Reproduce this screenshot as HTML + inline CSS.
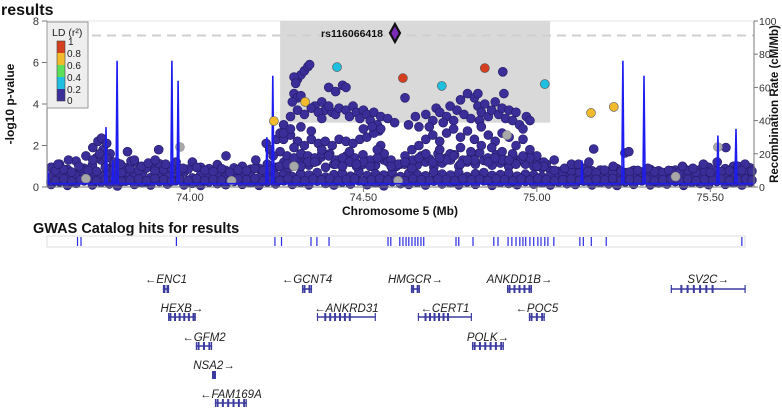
<!DOCTYPE html>
<html><head><meta charset="utf-8"><style>
html,body{margin:0;padding:0;background:#fff;}
svg{display:block;font-family:"Liberation Sans",Arial,sans-serif;}
</style></head><body>
<svg id="chart" width="782" height="411" viewBox="0 0 782 411" xmlns="http://www.w3.org/2000/svg">
<text x="1" y="15" font-size="16" font-weight="bold" fill="#111">results</text>
<rect x="47" y="21" width="707" height="166" fill="#fff" stroke="#e6e6e6"/>
<rect id="region" fill="#d9d9d9"/>
<line id="sigline" stroke="#cfcfcf" stroke-width="2" stroke-dasharray="9,6"/>
<g id="points"></g>
<path id="recomb" fill="none" stroke="#1d1df0" stroke-width="1.6"/>
<g id="ld"></g>
<g id="axes"></g>
<text transform="translate(14,104) rotate(-90)" text-anchor="middle" font-size="12" font-weight="bold" fill="#111">-log10 p-value</text>
<text transform="translate(778,104) rotate(-90)" text-anchor="middle" font-size="11.5" font-weight="bold" fill="#111">Recombination Rate (cM/Mb)</text>
<text x="400" y="215" text-anchor="middle" font-size="12" font-weight="bold" fill="#111">Chromosome 5 (Mb)</text>
<g>
<rect x="47" y="22" width="41" height="86" fill="#eeeeee" stroke="#999"/>
<text x="52" y="36" font-size="10.5" fill="#222">LD (r²)</text>
<rect x="57" y="41" width="8" height="12" fill="#d43f1f"/>
<rect x="57" y="53" width="8" height="12" fill="#f2bb2d"/>
<rect x="57" y="65" width="8" height="12" fill="#5ce05c"/>
<rect x="57" y="77" width="8" height="12" fill="#1fbfe0"/>
<rect x="57" y="89" width="8" height="12" fill="#3b2e98"/>
<rect x="57" y="41" width="8" height="60" fill="none" stroke="#444" stroke-width="0.6"/>
<g font-size="10" fill="#222"><text x="68" y="45">1</text><text x="67" y="57">0.8</text><text x="67" y="69">0.6</text><text x="67" y="81">0.4</text><text x="67" y="93">0.2</text><text x="67" y="104">0</text></g>
</g>
<text x="33" y="233" font-size="14.5" font-weight="bold" fill="#111">GWAS Catalog hits for results</text>
<rect x="47" y="236" width="698" height="11" fill="#fff" stroke="#ddd"/>
<g id="hits"></g>
<g id="genes"></g>
</svg>
<script>
// ---- data ----
const basePos=[73.600,73.624,73.647,73.672,73.695,73.719,73.744,73.768,73.791,73.815,73.840,73.863,73.887,73.912,73.935,73.959,73.983,74.007,74.031,74.055,74.079,74.103,74.127,74.151,74.175,74.199,74.223,74.247,74.271,74.295,74.319,74.343,74.367,74.391,74.415,74.439,74.463,74.487,74.511,74.535,74.559,74.583,74.607,74.631,74.655,74.679,74.703,74.727,74.751,74.775,74.799,74.823,74.847,74.871,74.895,74.919,74.943,74.967,74.991,75.015,75.039,75.063,75.087,75.111,75.135,75.159,75.183,75.207,75.231,75.255,75.279,75.303,75.327,75.351,75.375,75.399,75.423,75.447,75.471,75.495,75.519,75.543,75.567,75.591,75.615];
const basePos2=[73.612,73.636,73.659,73.684,73.707,73.731,73.756,73.780,73.803,73.827,73.852,73.875,73.899,73.924,73.947,73.971,73.995,74.019,74.043,74.067,74.091,74.115,74.139,74.163,74.187,74.211,74.235,74.259,74.283,74.307,74.331,74.355,74.379,74.403,74.427,74.451,74.475,74.499,74.523,74.547,74.571,74.595,74.619,74.643,74.667,74.691,74.715,74.739,74.763,74.787,74.811,74.835,74.859,74.883,74.907,74.931,74.955,74.979,75.003,75.027,75.051,75.075,75.099,75.123,75.147,75.171,75.195,75.219,75.243,75.267,75.291,75.315,75.339,75.363,75.387,75.411,75.435,75.459,75.483,75.507,75.531,75.555,75.579,75.603,75.620];
const baseA=[0.12,0.25,0.08,0.18,0.3,0.1,0.22,0.15,0.05,0.28,0.12,0.2,0.09,0.26,0.14,0.3,0.1,0.18,0.07,0.24,0.16,0.11,0.27,0.13,0.2,0.08,0.25,0.15,0.3,0.12,0.22,0.1,0.28,0.17,0.09,0.24,0.14,0.3,0.11,0.2,0.06,0.26,0.16,0.12,0.23,0.09,0.28,0.15,0.2,0.1,0.25,0.13,0.3,0.08,0.22,0.17,0.11,0.27,0.14,0.2,0.09,0.24,0.16,0.12,0.28,0.1,0.21,0.15,0.07,0.25,0.13,0.3,0.1,0.19,0.14,0.26,0.08,0.22,0.17,0.11,0.27,0.13,0.2,0.09,0.24];
const baseB=[0.5,0.62,0.45,0.58,0.7,0.48,0.55,0.66,0.42,0.6,0.52,0.68,0.46,0.57,0.63,0.5,0.72,0.44,0.59,0.54,0.65,0.47,0.6,0.52,0.7,0.45,0.62,0.56,0.68,0.5,0.64,0.58,0.7,0.48,0.6,0.66,0.52,0.72,0.55,0.63,0.58,0.7,0.5,0.66,0.6,0.54,0.72,0.62,0.58,0.68,0.5,0.64,0.7,0.56,0.6,0.66,0.52,0.62,0.58,0.5,0.55,0.6,0.45,0.52,0.58,0.48,0.56,0.62,0.5,0.46,0.6,0.52,0.44,0.58,0.5,0.64,0.47,0.55,0.6,0.5,0.62,0.56,0.68,0.52,0.6];
const baseC=[0.95,1.1,0.85,1.25,0.9,1.05,1.3,0.88,1.15,0.92,1.2,0.85,1.0,1.12,0.9,1.05,0.82,1.2,0.95,0.88,1.08,0.8,0.92,1.0,0.86,0.9,1.1,0.95,1.2,1.0,1.15,1.05,1.25,0.95,1.1,1.0,1.2,0.92,1.15,1.05,1.3,0.98,1.1,1.25,1.05,1.2,0.95,1.15,1.3,1.0,1.2,1.1,1.28,1.05,1.15,0.98,1.2,1.1,1.0,0.92,0.8,0.75,0.85,0.7,0.9,0.78,0.82,0.75,0.88,0.7,0.8,0.72,0.85,0.78,0.68,0.82,0.9,0.76,0.84,0.95,0.8,0.88,1.0,0.85,0.92];
const baseD=[0.3,0.38,0.28,0.35,0.4,0.3,0.36,0.42,0.27,0.33,0.38,0.3,0.4,0.35,0.28,0.37,0.32,0.4,0.3,0.36,0.33,0.29,0.38,0.35,0.41,0.3,0.36,0.32,0.4,0.35,0.3,0.38,0.34,0.4,0.31,0.36,0.39,0.3,0.35,0.4,0.33,0.37,0.3,0.4,0.35,0.32,0.38,0.36,0.3,0.4,0.34,0.37,0.31,0.39,0.35,0.3,0.38,0.33,0.4,0.36,0.3,0.35,0.38,0.32,0.3,0.37,0.34,0.4,0.31,0.36,0.33,0.38,0.3,0.35,0.4,0.32,0.37,0.3,0.36,0.34,0.39,0.31,0.35,0.38,0.33];
const baseE=[0.78,0.85,0.72,0.9,0.8,0.75,0.95,0.82,0.7,0.88,0.8,0.92,0.76,0.84,0.9,0.78,0.86,0.95,0.8,0.74,0.88,0.7,0.82,0.78,0.9,0.8,0.85,1.0,0.9,1.3,1.5,1.2,1.45,1.6,1.3,1.5,1.4,1.55,1.25,1.45,1.2,1.0,1.1,1.3,1.5,1.35,1.6,1.4,1.55,1.3,1.5,1.65,1.4,1.55,1.3,1.5,1.35,1.45,1.25,1.1,0.8,0.72,0.78,0.7,0.75,0.68,0.82,0.7,0.76,0.72,0.8,0.68,0.74,0.7,0.78,0.72,0.8,0.7,0.76,0.82,0.74,0.78,0.85,0.8,0.76];
const snpPos=[73.62,73.65,73.68,73.70,73.72,73.735,73.745,73.75,73.76,73.77,73.73,73.78,73.80,73.82,73.83,73.86,73.88,73.90,73.93,73.96,73.98,73.91,74.104,74.19,74.22,74.25,74.26,
74.31,74.32,74.33,74.34,74.345,74.30,74.305,74.30,74.31,74.32,74.295,74.40,74.42,74.44,74.45,74.38,74.36,74.39,74.41,
74.27,74.29,74.31,74.33,74.35,74.37,74.38,74.40,74.42,74.43,74.45,74.46,74.47,74.48,74.49,74.50,74.51,74.52,74.53,74.54,74.55,74.545,
74.57,74.59,74.62,74.63,74.65,74.66,
74.68,74.70,74.71,74.72,74.74,74.75,74.76,74.77,74.78,74.79,74.80,74.81,74.82,74.83,74.84,74.85,74.86,74.87,74.88,74.89,74.90,74.905,74.91,74.92,74.93,74.94,74.95,74.96,74.97,74.98,74.73,74.69,74.835,74.902,74.83,
74.27,74.29,74.31,74.33,74.35,74.37,74.39,74.41,74.43,74.45,74.47,74.49,74.51,74.53,74.55,74.56,74.58,74.60,74.62,74.64,74.66,74.68,74.70,74.72,74.74,74.76,74.78,74.80,74.82,74.84,74.86,74.88,74.90,74.92,74.94,74.96,74.98,75.00,75.02,74.72,74.75,74.78,74.81,74.84,74.87,74.90,74.93,
74.26,74.28,74.30,74.32,74.34,74.36,74.38,74.40,74.42,74.44,74.46,74.48,74.50,74.52,74.54,74.29,74.32,74.35,74.27,74.525,74.55,74.50,
75.05,75.08,75.10,75.15,75.164,75.12,75.22,75.254,75.265,75.32,75.38,75.42,75.45,75.48,75.50,75.52,75.545,75.58,75.60,75.59,
74.28,74.30,74.34,74.38,74.42,74.46,74.50,74.54,74.58,74.62,74.66,74.70,74.74,74.78,74.82,74.86,74.90,74.94,74.98,75.02,74.32,74.36,74.44,74.48,74.52,74.64,74.68,74.72,74.76,74.80,74.88,74.92,74.96,75.00,73.74,73.76,73.72,73.84,74.23,74.24];
const snpP=[1.1,1.3,1.0,1.5,1.9,2.2,2.35,1.8,2.1,1.6,1.4,1.2,1.1,1.7,1.25,1.0,1.15,1.3,1.1,1.2,0.9,1.8,1.5,1.3,2.1,2.3,2.6,
5.2,5.4,5.6,5.8,5.9,5.3,5.0,4.5,4.3,4.4,4.1,4.8,4.6,4.9,4.8,4.1,3.9,3.7,3.6,
3.0,3.4,3.7,3.5,3.8,3.6,3.3,3.9,3.5,3.8,3.7,3.4,3.9,3.6,3.3,3.7,3.5,3.2,3.6,3.0,3.4,2.7,
3.3,3.1,4.3,3.0,3.4,2.9,
3.5,3.2,3.8,3.6,3.4,3.9,3.2,3.7,4.2,3.5,4.5,3.3,4.3,3.9,3.6,4.0,3.4,3.7,4.1,3.5,3.8,4.5,3.3,3.7,3.2,3.6,3.0,2.8,3.4,3.2,3.1,2.9,3.2,5.55,4.5,
2.3,2.5,2.2,2.0,2.3,2.1,2.2,2.0,2.3,2.2,2.1,2.3,2.4,2.6,2.0,1.6,1.3,1.1,1.5,1.8,2.0,2.3,2.5,2.2,2.6,2.8,2.4,2.7,2.3,2.9,2.5,2.2,2.6,2.4,2.0,2.3,1.8,1.5,1.2,1.8,1.6,1.9,1.7,2.0,1.9,1.7,1.6,
1.7,1.5,1.4,1.6,1.5,1.4,1.6,1.5,1.3,1.4,1.2,1.0,1.1,1.3,1.4,2.8,2.9,2.7,2.6,2.9,2.8,2.8,
1.3,0.9,1.1,1.2,1.83,1.1,1.0,1.64,1.7,0.9,0.8,1.0,0.9,1.1,0.7,1.2,1.9,1.0,1.1,0.8,
1.1,1.9,1.2,1.8,1.1,1.7,1.2,1.8,1.0,1.2,1.4,1.2,1.3,1.1,1.3,1.2,1.3,1.1,1.4,1.0,1.0,1.2,1.0,1.1,1.0,0.9,1.6,1.4,1.5,1.3,1.4,1.3,1.5,1.0,1.6,1.4,1.3,1.3,1.8,1.5];
const grayPos=[73.971,74.914,74.30,74.60,75.522,73.70,74.12,75.40];
const grayP=[1.93,2.5,1.0,0.3,1.93,0.4,0.3,0.5];
const ldPos=[74.614,74.850,74.424,74.726,75.023,74.242,74.332,75.156,75.222];
const ldP=[5.25,5.73,5.78,4.87,4.96,3.18,4.10,3.57,3.86];
const ldR2=[0.85,0.9,0.3,0.25,0.3,0.7,0.65,0.7,0.7];
const leadPos=74.591, leadP=7.42, leadName="rs116066418";
const recPos=[73.588,73.590,73.593,73.600,73.755,73.758,73.761,73.775,73.778,73.781,73.787,73.790,73.793,73.945,73.948,73.951,73.963,73.966,73.969,74.219,74.222,74.225,74.236,74.239,74.242,75.127,75.130,75.133,75.245,75.248,75.251,75.306,75.309,75.312,75.519,75.522,75.525,75.571,75.574,75.577,75.627];
const recRate=[2,10,2,2,2,36,2,2,16,2,2,76,2,2,76,2,2,64,2,2,30,2,2,67,2,2,16,2,2,76,2,2,67,2,2,31,2,2,35,2,2];
const hitPos=[73.676,73.686,73.961,74.245,74.264,74.349,74.366,74.401,74.571,74.579,74.605,74.614,74.623,74.631,74.640,74.649,74.657,74.666,74.674,74.767,74.775,74.816,74.876,74.888,74.917,74.928,74.940,74.951,74.960,74.968,74.980,74.991,75.003,75.012,75.023,75.032,75.049,75.124,75.134,75.157,75.200,75.591];
const geneNames=["ENC1","GCNT4","HMGCR","ANKDD1B","SV2C","HEXB","ANKRD31","CERT1","POC5","GFM2","POLK","NSA2","FAM169A"];
const geneStart=[73.922,74.323,74.637,74.914,75.386,73.937,74.366,74.657,74.977,74.017,74.813,74.064,74.072];
const geneEnd=[73.940,74.352,74.663,74.986,75.602,74.017,74.536,74.813,75.023,74.064,74.905,74.075,74.164];
const geneRow=[0,0,0,0,0,1,1,1,1,2,2,3,4];
const geneStrand=["-","-","+","+","+","+","-","-","-","-","+","+","-"];
const xTicks=[74.0,74.5,75.0,75.5];
const yTicks=[0,2,4,6,8];
const y2Ticks=[0,20,40,60,80,100];
// ---- scales ----
const X0=47,X1=754,D0=73.588,D1=75.626;
const x=v=>X0+(v-D0)/(D1-D0)*(X1-X0);
const y=v=>187-v/8*166;
const y2=v=>187-v/100*166;
const NS="http://www.w3.org/2000/svg";
function mk(tag,attrs,parent){const e=document.createElementNS(NS,tag);for(const k in attrs)e.setAttribute(k,attrs[k]);parent.appendChild(e);return e;}
function ldColor(r){return r>=0.8?"#d43f1f":r>=0.6?"#f2bb2d":r>=0.4?"#5ce05c":r>=0.2?"#1fbfe0":"#3b2e98";}
const reg=document.getElementById("region");
reg.setAttribute("x",x(74.260));reg.setAttribute("y",21);reg.setAttribute("width",x(75.038)-x(74.260));reg.setAttribute("height",y(3.1)-21);
const sl=document.getElementById("sigline");
sl.setAttribute("x1",X0);sl.setAttribute("x2",X1);sl.setAttribute("y1",y(7.3));sl.setAttribute("y2",y(7.3));
const pg=document.getElementById("points");
function dot(px,pv,fill,stroke,g,name){const c=mk("circle",{cx:x(px).toFixed(1),cy:y(pv).toFixed(1),r:4.5,fill:fill,stroke:stroke,"stroke-width":0.6},g);

}
[baseC,baseB,baseA].forEach(arr=>{for(let i=0;i<basePos.length;i++)dot(basePos[i],arr[i],"#3b2e98","#241a66",pg,"snp-point");});
[baseE,baseD].forEach(arr=>{for(let i=0;i<basePos2.length;i++)dot(basePos2[i],arr[i],"#3b2e98","#241a66",pg,"snp-point");});
for(let i=0;i<snpPos.length;i++)dot(snpPos[i],snpP[i],"#3b2e98","#241a66",pg,"snp-point");
for(let i=0;i<grayPos.length;i++)dot(grayPos[i],grayP[i],"#a8a8a8","#888",pg,"snp-point-no-ld");
let d="";for(let i=0;i<recPos.length;i++)d+=(i?"L":"M")+x(recPos[i]).toFixed(1)+","+y2(recRate[i]).toFixed(1);
document.getElementById("recomb").setAttribute("d",d);
const lg=document.getElementById("ld");
for(let i=0;i<ldPos.length;i++)dot(ldPos[i],ldP[i],ldColor(ldR2[i]),"#555",lg,"ld-snp-point");
const lx=x(leadPos),ly=y(leadP);
const dia=mk("path",{d:`M${lx},${ly-9}L${lx+5},${ly}L${lx},${ly+9}L${lx-5},${ly}Z`,fill:"#7a2bb8",stroke:"#111","stroke-width":2.2},lg);


const lt=mk("text",{x:lx-12,y:ly+4,"text-anchor":"end","font-size":10.5,"font-weight":"bold",fill:"#111"},lg);
lt.textContent=leadName;


const ag=document.getElementById("axes");
mk("line",{x1:X0,y1:21,x2:X0,y2:187,stroke:"#777"},ag);
mk("line",{x1:X0,y1:187,x2:X1,y2:187,stroke:"#777"},ag);
mk("line",{x1:X1,y1:21,x2:X1,y2:187,stroke:"#777"},ag);
yTicks.forEach(t=>{mk("line",{x1:X0-5,x2:X0,y1:y(t),y2:y(t),stroke:"#777"},ag);
const e=mk("text",{x:X0-8,y:y(t)+4,"text-anchor":"end","font-size":11,fill:"#333"},ag);e.textContent=t;

});
y2Ticks.forEach(t=>{mk("line",{x1:X1,x2:X1+4,y1:y2(t),y2:y2(t),stroke:"#777"},ag);
const e=mk("text",{x:X1+5,y:y2(t)+4,"font-size":10.5,fill:"#333"},ag);e.textContent=t;

});
xTicks.forEach(t=>{mk("line",{x1:x(t),x2:x(t),y1:187,y2:192,stroke:"#777"},ag);
const e=mk("text",{x:x(t),y:201,"text-anchor":"middle","font-size":11,fill:"#333"},ag);e.textContent=t.toFixed(2);

});
const hg=document.getElementById("hits");
hitPos.forEach(p=>{const l=mk("line",{x1:x(p),x2:x(p),y1:237,y2:246,stroke:"#2a2ae0","stroke-width":1.2},hg);

});
const gg=document.getElementById("genes");
const rowLabelY=[283,312,341,369,398], rowBarY=[289,317,346,375,403];
for(let i=0;i<geneNames.length;i++){
 const r=geneRow[i],s=x(geneStart[i]),e=x(geneEnd[i]),w=e-s,by=rowBarY[r];
 const g=mk("g",{},gg);
 
 
 mk("line",{x1:s,x2:e,y1:by,y2:by,stroke:"#3b3ba0","stroke-width":1.6},g);
 mk("rect",{x:s,y:by-4,width:1.2,height:8,fill:"#3b3ba0"},g);
 mk("rect",{x:e-1.2,y:by-4,width:1.2,height:8,fill:"#3b3ba0"},g);
 const n=Math.max(2,Math.min(6,Math.round(w/5)));
 for(let k=0;k<n;k++){const ex=s+w*(k+0.5)/n*(w>40?0.5:1)+(w>40?w*0.1:0);
  mk("rect",{x:ex-1,y:by-4,width:2,height:8,fill:"#3b3ba0"},g);}
 const t=mk("text",{x:(s+e)/2,y:rowLabelY[r],"text-anchor":"middle","font-size":11.5,"font-style":"italic",fill:"#222"},g);
 t.textContent=geneStrand[i]==="+"?geneNames[i]+"→":"←"+geneNames[i];
}
</script>
</body></html>
